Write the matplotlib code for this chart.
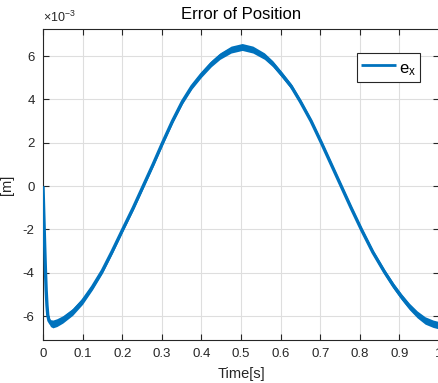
import matplotlib
matplotlib.use("Agg")
import matplotlib.pyplot as plt
import numpy as np

plt.rcParams['font.family'] = ['Liberation Sans', 'DejaVu Sans']
plt.rcParams['axes.unicode_minus'] = False
plt.rcParams['mathtext.fontset'] = 'custom'
plt.rcParams['mathtext.rm'] = 'Liberation Sans'
plt.rcParams['mathtext.it'] = 'Liberation Sans'

# data (time in s, position error in 1e-3 m)
time_s = [0, 0.002, 0.004, 0.006, 0.008, 0.010, 0.012, 0.015, 0.019, 0.025,
          0.035, 0.050, 0.075, 0.100, 0.125, 0.150, 0.175, 0.200, 0.228, 0.253,
          0.278, 0.302, 0.327, 0.352, 0.376, 0.400, 0.425, 0.447, 0.475, 0.503,
          0.530, 0.559, 0.580, 0.603, 0.627, 0.650, 0.677, 0.703, 0.728, 0.753,
          0.778, 0.804, 0.833, 0.862, 0.885, 0.905, 0.925, 0.945, 0.965, 0.985,
          1.000]
err_mm = [0, -1.3, -2.6, -3.8, -4.8, -5.5, -5.95, -6.2, -6.32, -6.36,
          -6.3, -6.15, -5.8, -5.3, -4.65, -3.9, -3.0, -2.05, -1.0, 0.0,
          1.0, 2.0, 3.0, 3.9, 4.6, 5.15, 5.65, 6.0, 6.3, 6.42,
          6.3, 6.0, 5.65, 5.15, 4.6, 3.9, 3.0, 2.0, 1.0, 0.0,
          -1.0, -2.0, -3.05, -3.95, -4.6, -5.1, -5.55, -5.92, -6.2, -6.35,
          -6.42]
# half width of the high-frequency ripple band (1e-3 m)
ripple = [0.0, 0.02, 0.04, 0.06, 0.08, 0.1, 0.12, 0.14, 0.16, 0.18,
          0.18, 0.17, 0.16, 0.15, 0.13, 0.12, 0.11, 0.1, 0.1, 0.1,
          0.1, 0.1, 0.1, 0.11, 0.12, 0.13, 0.14, 0.15, 0.16, 0.16,
          0.16, 0.15, 0.14, 0.13, 0.12, 0.11, 0.1, 0.1, 0.1, 0.1,
          0.1, 0.1, 0.11, 0.12, 0.13, 0.14, 0.15, 0.16, 0.17, 0.17,
          0.17]

t = np.array(time_s)
e = np.array(err_mm)
r = np.array(ripple)

fig = plt.figure(figsize=(4.39, 3.83), dpi=100)
ax = fig.add_axes([43/439, 43/383, 396/439, (340-29)/383])

col = '#0072BD'
ax.fill_between(t, e - r, e + r, color=col, lw=0, zorder=3)
ax.plot(t, e, color=col, lw=2.4, solid_capstyle='butt', solid_joinstyle='round',
        zorder=4, label='e$_{x}$')

ax.set_xlim(0, 1)
ax.set_ylim(-7.1, 7.25)
xt = np.round(np.arange(0, 1.01, 0.1), 1)
ax.set_xticks(xt)
ax.set_xticklabels(['0', '0.1', '0.2', '0.3', '0.4', '0.5', '0.6', '0.7', '0.8', '0.9', '1'])
yt = [-6, -4, -2, 0, 2, 4, 6]
ax.set_yticks(yt)
ax.set_yticklabels([str(v) for v in yt])

dark = '#262626'
ax.grid(True, color='#dedede', lw=0.8)
ax.set_axisbelow(True)
for s in ax.spines.values():
    s.set_color(dark)
    s.set_linewidth(0.8)
ax.tick_params(direction='in', length=4, width=0.8, colors=dark, labelsize=9.5,
               top=True, right=True, pad=6)

ax.text(0.0, 1.012, r'$\times$10$^{-3}$', transform=ax.transAxes, fontsize=9,
        color=dark, ha='left', va='bottom')

ax.set_title('Error of Position', fontsize=12, color='black', pad=7)
ax.set_xlabel('Time[s]', fontsize=10.5, color=dark)
ax.xaxis.set_label_coords(0.5, -0.088)
ax.set_ylabel('[m]', fontsize=10.5, color=dark)
ax.yaxis.set_label_coords(-0.073, 0.5)

leg = ax.legend(loc='upper right', bbox_to_anchor=((420-43)/396, (340-53)/311),
                bbox_transform=ax.transAxes, fontsize=12, handlelength=2.1,
                handleheight=1.5, fancybox=False, framealpha=1, edgecolor=dark,
                borderpad=0.25, handletextpad=0.15, borderaxespad=0)
leg.get_frame().set_linewidth(0.8)
leg.get_lines()[0].set_linewidth(2)

fig.savefig('out.png', dpi=100)
